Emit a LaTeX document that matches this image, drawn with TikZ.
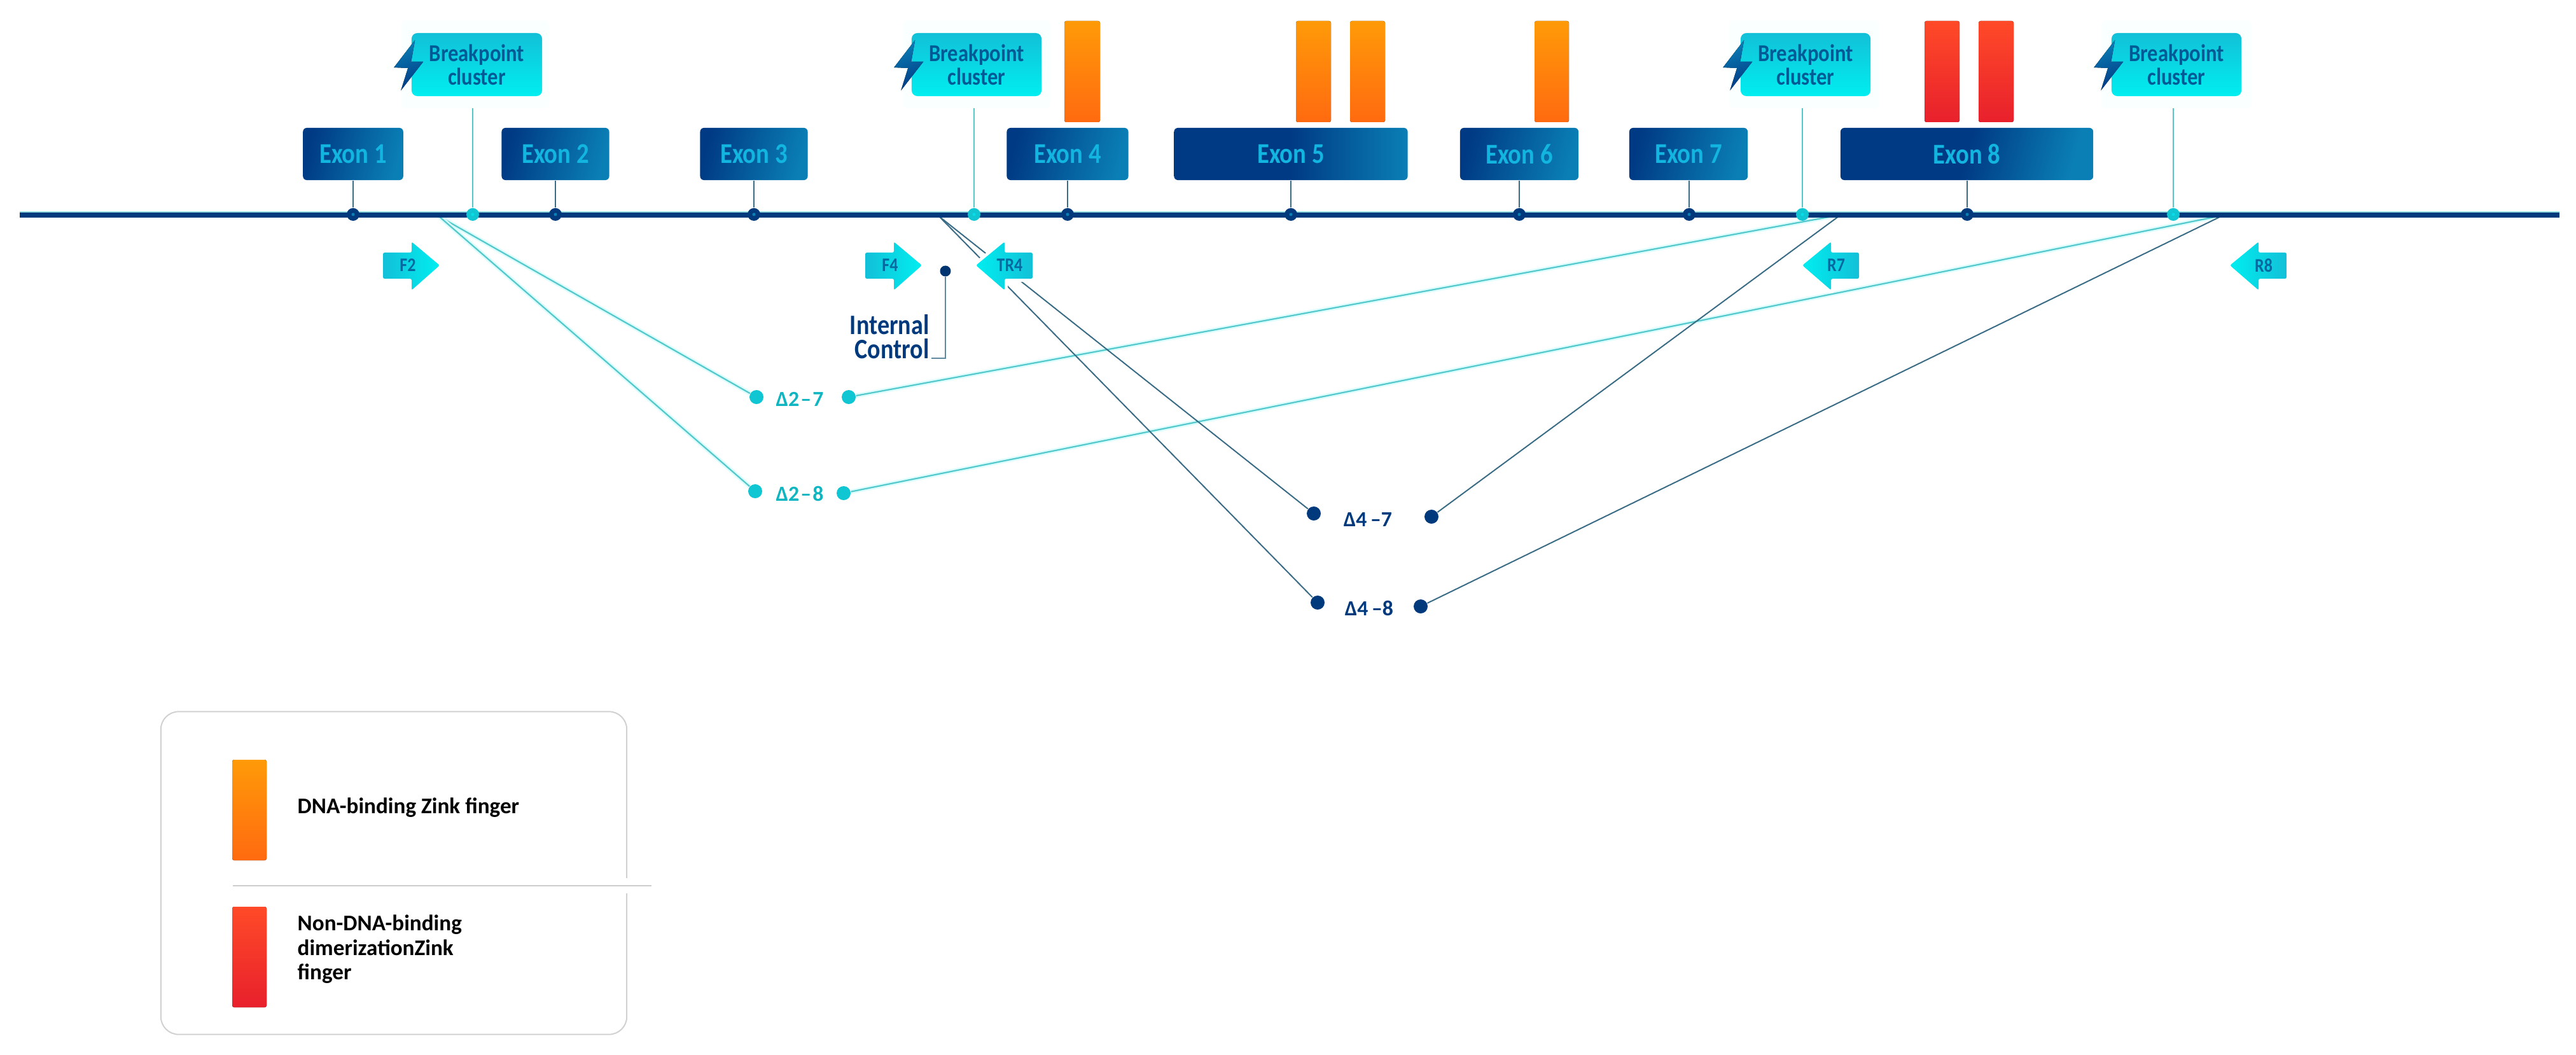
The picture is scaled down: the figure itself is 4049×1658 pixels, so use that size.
\documentclass[tikz,border=0pt]{standalone}
\usepackage{fontspec}
\setmainfont{Carlito}
\newfontfamily\narrowfont[FakeStretch=0.86]{Carlito}
\usetikzlibrary{calc}
\definecolor{exA}{HTML}{003A85}
\definecolor{exB}{HTML}{0A7FB5}
\definecolor{exT}{HTML}{12B5E0}
\definecolor{navy}{HTML}{003A7D}
\definecolor{cyA}{HTML}{12C0D8}
\definecolor{cyB}{HTML}{00EEF0}
\definecolor{cyL}{HTML}{55C8CC}
\definecolor{cyD}{HTML}{10C6D2}
\definecolor{dkL}{HTML}{3A6C86}
\definecolor{bpT}{HTML}{005A96}
\definecolor{orA}{HTML}{FF9A08}
\definecolor{orB}{HTML}{FF6A10}
\definecolor{rdA}{HTML}{FF4A28}
\definecolor{rdB}{HTML}{E8202C}
\tikzset{
  x=0.01cm,y=-0.01cm,
  exonbox/.style={rounded corners=0.06cm,inner sep=0pt,left color=exA,right color=exB,shading angle=75,
    text=exT,font=\narrowfont\fontsize{12.8}{14}\selectfont\bfseries,minimum height=0.82cm},
  bphalo/.style={rounded corners=0.05cm,fill=cyB!2,inner sep=0pt},
  bpbox/.style={rounded corners=0.09cm,inner sep=0pt,top color=cyA,bottom color=cyB,
    text=bpT,align=center,font=\narrowfont\fontsize{10.8}{10.6}\selectfont\bfseries},
  stemdark/.style={draw=dkL,line width=0.022cm},
  stemcyan/.style={draw=cyL,line width=0.022cm},
  geneline/.style={draw=navy,line width=0.07cm},
  darkdot/.style={circle,fill=navy,inner sep=0pt,minimum size=0.2cm},
  cyandot/.style={circle,fill=cyD,inner sep=0pt,minimum size=0.2cm},
  enddotc/.style={circle,fill=cyD,inner sep=0pt,minimum size=0.22cm},
  enddotd/.style={circle,fill=navy,inner sep=0pt,minimum size=0.22cm},
  cyanlink/.style={draw=cyL,line width=0.022cm,preaction={draw=cyB!14,line width=0.07cm}},
  darklink/.style={draw=dkL,line width=0.02cm},
  primerhalo/.style={draw=white,fill=white,line width=0.1cm,line join=round},
  primer/.style={left color=cyA,right color=cyB,rounded corners=0.025cm},
  primerrev/.style={left color=cyB,right color=cyA,rounded corners=0.025cm},
  primertext/.style={text=bpT!85!cyA,font=\narrowfont\fontsize{8.6}{9}\selectfont\bfseries,inner sep=0pt},
  dellabelc/.style={text=cyD!92!black,font=\fontsize{9.6}{10}\selectfont\bfseries,inner sep=0pt},
  dellabeld/.style={text=navy,font=\fontsize{9.6}{10}\selectfont\bfseries,inner sep=0pt},
  orangebar/.style={rounded corners=0.03cm,top color=orA,bottom color=orB},
  redbar/.style={rounded corners=0.03cm,top color=rdA,bottom color=rdB},
  legendtext/.style={text=black,font=\fontsize{10}{10.95}\selectfont\bfseries,align=left,anchor=west,inner sep=0pt},
}
\newcommand{\boltat}[1]{%
  \fill[left color=exB,right color=exA,shading angle=20] ($(#1)+(6,11)$) -- ($(#1)+(-27,54)$) -- ($(#1)+(-5,55)$) -- ($(#1)+(-16,90)$) -- ($(#1)+(19,45)$) -- ($(#1)+(0,45)$) -- cycle;}
\newcommand{\primerright}[3]{%
  \path[primerhalo] (#1,397) -- (#1+45,397) -- (#1+45,380) -- (#1+89,417) -- (#1+45,456) -- (#1+45,438) -- (#1,438) -- cycle;
  \path[primer] (#1,397) -- (#1+45,397) -- (#1+45,380) -- (#1+89,417) -- (#1+45,456) -- (#1+45,438) -- (#1,438) -- cycle;
  \node[primertext] (#2) at (#1+39,417) {#3};}
\newcommand{\primerleft}[3]{%
  \path[primerhalo] (#1,417) -- (#1+45,380) -- (#1+45,397) -- (#1+89,397) -- (#1+89,438) -- (#1+45,438) -- (#1+45,456) -- cycle;
  \path[primerrev] (#1,417) -- (#1+45,380) -- (#1+45,397) -- (#1+89,397) -- (#1+89,438) -- (#1+45,438) -- (#1+45,456) -- cycle;
  \node[primertext] (#2) at (#1+53,417) {#3};}
\begin{document}
\begin{tikzpicture}
\useasboundingbox (0,0) rectangle (4049,1658);
% halos behind breakpoint boxes
\node[bphalo,minimum width=2.31cm,minimum height=1.37cm] (h1) at (747,101) {};
\node[bphalo,minimum width=2.31cm,minimum height=1.37cm] (h2) at (1535,101) {};
\node[bphalo,minimum width=2.35cm,minimum height=1.37cm] (h3) at (2836,101) {};
\node[bphalo,minimum width=2.35cm,minimum height=1.37cm] (h4) at (3421,101) {};
% gene line
\coordinate (gl) at (31,337);
\coordinate (gr) at (4023,337);
\coordinate (sa) at (690,340);
\coordinate (sb) at (1476,340);
\coordinate (sc) at (2880,340);
\coordinate (sd) at (2890,340);
\coordinate (se) at (3486,340);
\coordinate (sf) at (3491,340);
% end points
\node[enddotc] (e1) at (1189,624) {};
\node[enddotc] (e2) at (1334,624) {};
\node[enddotc] (e3) at (1187,772) {};
\node[enddotc] (e4) at (1326,775) {};
\node[enddotd] (e5) at (2065,807) {};
\node[enddotd] (e6) at (2250,812) {};
\node[enddotd] (e7) at (2071,947) {};
\node[enddotd] (e8) at (2233,953) {};
\path[cyanlink] (sa) -- (e1);
\path[cyanlink] (sa) -- (e3);
\path[cyanlink] (sc) -- (e2);
\path[cyanlink] (se) -- (e4);
\path[darklink] (sb) -- (e5);
\path[darklink] (sb) -- (e7);
\path[darklink] (sd) -- (e6);
\path[darklink] (sf) -- (e8);
\draw[draw=cyL!60!white,line width=0.02cm] ($(gl)+(0,-4)$) -- ($(gr)+(0,-4)$);
\path[geneline] ($(gl)+(0,1)$) -- ($(gr)+(0,1)$);
% zinc fingers
\fill[orangebar] (1673,33) rectangle (1729,192);
\fill[orangebar] (2037,33) rectangle (2092,192);
\fill[orangebar] (2122,33) rectangle (2177,192);
\fill[orangebar] (2412,33) rectangle (2466,192);
\fill[redbar] (3025,33) rectangle (3080,192);
\fill[redbar] (3110,33) rectangle (3165,192);
% exons
\node[exonbox,minimum width=1.575cm] (x1) at (555,242) {Exon 1};
\node[exonbox,minimum width=1.69cm] (x2) at (873,242) {Exon 2};
\node[exonbox,minimum width=1.69cm] (x3) at (1185,242) {Exon 3};
\node[exonbox,minimum width=1.91cm] (x4) at (1678,242) {Exon 4};
\node[exonbox,minimum width=3.67cm,right color=exB,middle color=exA] (x5) at (2029,242) {Exon 5};
\node[exonbox,minimum width=1.86cm] (x6) at (2388,242) {Exon 6};
\node[exonbox,minimum width=1.86cm] (x7) at (2654,242) {Exon 7};
\node[exonbox,minimum width=3.97cm,middle color=exA] (x8) at (3091.5,242) {Exon 8};
% dots on gene line
\foreach \n/\px in {x1/555,x2/873,x3/1185,x4/1678,x5/2029,x6/2388,x7/2655,x8/3092}{
  \node[darkdot] (d\n) at (\px,337) {};
  \path[stemdark] (\n.south -| d\n) -- (d\n);
  \fill[exB] (d\n) circle (2.5);
}
% breakpoint boxes
\node[bpbox,minimum width=2.05cm,minimum height=0.99cm] (b1) at (749.5,101.5) {Breakpoint\\cluster};
\node[bpbox,minimum width=2.04cm,minimum height=0.99cm] (b2) at (1535,101.5) {Breakpoint\\cluster};
\node[bpbox,minimum width=2.04cm,minimum height=0.99cm] (b3) at (2838,101.5) {Breakpoint\\cluster};
\node[bpbox,minimum width=2.04cm,minimum height=0.99cm] (b4) at (3421,101.5) {Breakpoint\\cluster};
\boltat{b1.west |- 0,52}
\boltat{b2.west |- 0,52}
\boltat{b3.west |- 0,52}
\boltat{b4.west |- 0,52}
\foreach \n/\px in {1/743,2/1531,3/2833,4/3416}{
  \node[cyandot] (c\n) at (\px,337) {};
  \path[stemcyan] (h\n.south -| c\n) -- (c\n);
  \fill[cyB!60!cyA] (c\n) circle (2.5);
}
% primers
\primerright{602}{f2}{F2}
\primerright{1360}{f4}{F4}
\primerleft{1534}{tr4}{TR4}
\primerleft{2833}{r7}{R7}
\primerleft{3505}{r8}{R8}
% internal control
\node[circle,fill=navy!90!black,inner sep=0pt,minimum size=0.17cm] (ic) at (1486,426) {};
\node[text=navy,align=right,anchor=east,inner sep=0pt,font=\narrowfont\fontsize{12.6}{10.6}\selectfont\bfseries] (ict) at (1461,529) {Internal\\Control};
\coordinate (icc) at (1486,563);
\coordinate (ice) at (1464,563);
\path[draw=dkL!80!white,line width=0.022cm] (ic) -- (icc) -- (ice);
% deletion labels
\node[dellabelc] (l27) at (1257,627) {Δ2\kern0.6pt–\kern0.6pt7};
\node[dellabelc] (l28) at (1257,776) {Δ2\kern0.6pt–\kern0.6pt8};
\node[dellabeld] (l47) at (2150,817) {Δ4\,–7};
\node[dellabeld] (l48) at (2152,956) {Δ4\,–8};
% legend
\node[draw=black!18,line width=0.02cm,rounded corners=0.28cm,inner sep=0pt,minimum width=7.32cm,minimum height=5.07cm] (lg) at (619,1372) {};
\fill[white] (978,1380) rectangle (992,1404);
\coordinate (dl) at (366,1392);
\coordinate (dr) at (1024,1392);
\path[draw=black!20,line width=0.022cm] (dl) -- (dr);
\fill[orangebar] (365,1194) rectangle (419,1352);
\fill[redbar] (365,1425) rectangle (419,1583);
\node[legendtext] (lt1) at (467,1269) {DNA-binding Zink finger};
\node[legendtext] (lt2) at (467,1492) {Non-DNA-binding\\dimerizationZink\\finger};
\end{tikzpicture}
\end{document}
